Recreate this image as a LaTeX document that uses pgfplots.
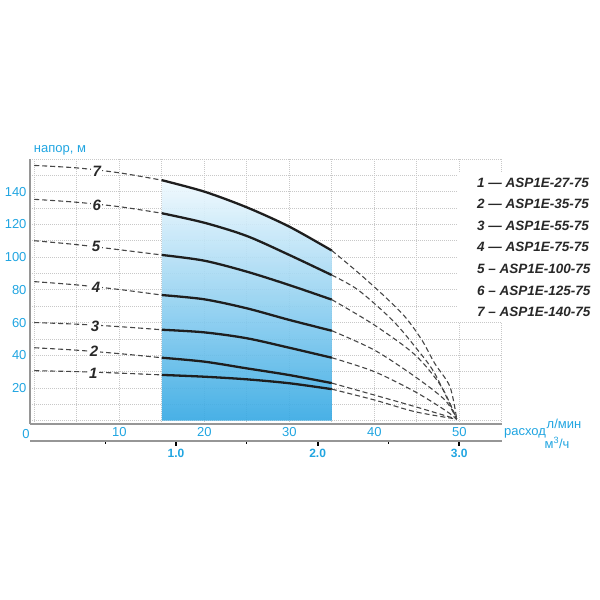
\documentclass[border=0pt]{standalone}
\usepackage{pgfplots}
\pgfplotsset{compat=1.18}
\usepackage{fontspec}
\setmainfont{Liberation Sans}
\definecolor{cy}{RGB}{32,165,225}
\definecolor{gridc}{RGB}{200,200,200}
\definecolor{axc}{RGB}{150,150,150}
\definecolor{dashc}{RGB}{70,70,70}
\definecolor{solidc}{RGB}{30,30,30}
\definecolor{shtop}{RGB}{240,249,254}
\definecolor{shbot}{RGB}{52,168,227}
\definecolor{legc}{RGB}{40,40,40}
\tikzset{lab/.style={fill=white, inner sep=1.5pt, text=legc, font=\fontsize{15}{17}\selectfont\bfseries\itshape}}
\begin{document}
\begin{tikzpicture}[x=1pt,y=1pt]
\begin{axis}[
 at={(30pt,176pt)}, anchor=south west, scale only axis,
 width=471.8pt, height=265.1pt,
 xmin=-0.5, xmax=55, ymin=-2, ymax=160,
 set layers,
 axis x line*=bottom, axis y line*=left,
 axis line style={axc, line width=1.8pt},
 xtick={10,20,30,40,50}, minor xtick={0,5,15,25,35,45,55},
 ytick={20,40,...,140}, minor ytick={0,10,30,50,70,90,110,130,150,160},
 grid=both,
 major grid style={gridc, line width=0.7pt, dash pattern=on 0.7pt off 1.3pt},
 minor grid style={gridc, line width=0.7pt, dash pattern=on 0.7pt off 1.3pt},
 major tick length=0pt, minor tick length=0pt,
 tick label style={font=\fontsize{13}{15}\selectfont, text=cy},
 /pgf/number format/assume math mode=true,
 dsh/.style={dashc, line width=1.1pt, dash pattern=on 5pt off 3pt, smooth},
 sld/.style={solidc, line width=2.3pt, smooth},
]
\addplot[draw=none, top color=shtop, bottom color=shbot, fill opacity=0.9, smooth] coordinates {(15,147)(20,140)(25,130.4)(30,118.6)(35,104)} \closedcycle;
% curve 7
\addplot[dsh] coordinates {(0,156)(5,154.5)(10,151.5)(15,147)};
\addplot[sld] coordinates {(15,147)(20,140)(25,130.4)(30,118.6)(35,104)};
\addplot[dsh] coordinates {(35,104)(38,91)(41,77)(43.6,63.6)(45.6,49.3)(47.1,35.1)(48.9,20.8)(49.7,1)};
% curve 6
\addplot[dsh] coordinates {(0,135.3)(5,133.5)(10,130.8)(15,126.8)};
\addplot[sld] coordinates {(15,126.8)(20,121)(25,112.9)(30,101.3)(35,89)};
\addplot[dsh] coordinates {(35,89)(38.1,79.9)(42.1,61.6)(44.8,45.2)(47.1,29)(49.7,1)};
% curve 5
\addplot[dsh] coordinates {(0,110)(5,107.6)(10,104.5)(15,101.3)};
\addplot[sld] coordinates {(15,101.3)(20,97.8)(25,91.1)(30,82.9)(35,74)};
\addplot[dsh] coordinates {(35,74)(40,58.5)(44.8,40.2)(47.9,20.8)(49.7,1)};
% curve 4
\addplot[dsh] coordinates {(0,85)(5,83)(10,80.2)(15,76.8)};
\addplot[sld] coordinates {(15,76.8)(20,74.2)(25,68.7)(30,61.6)(35,55)};
\addplot[dsh] coordinates {(35,55)(40,43.2)(44.8,26.9)(48.3,12.7)(49.7,1)};
% curve 3
\addplot[dsh] coordinates {(0,60)(5,59)(10,57.5)(15,55.6)};
\addplot[sld] coordinates {(15,55.6)(20,54)(25,50.4)(30,44.6)(35,38.5)};
\addplot[dsh] coordinates {(35,38.5)(40,30)(44.8,17.7)(48.3,6.5)(49.7,1)};
% curve 2
\addplot[dsh] coordinates {(0,44.6)(5,43.1)(10,41)(15,38.5)};
\addplot[sld] coordinates {(15,38.5)(20,36.1)(25,32)(30,27.9)(35,23)};
\addplot[dsh] coordinates {(35,23)(40,15.7)(44.8,8.6)(49.7,1)};
% curve 1
\addplot[dsh] coordinates {(0,30.6)(5,30)(10,29.1)(15,28)};
\addplot[sld] coordinates {(15,28)(20,26.9)(25,25.3)(30,22.9)(35,19.3)};
\addplot[dsh] coordinates {(35,19.3)(40,12.7)(44.8,5.5)(49.7,1)};
\node[lab] at (axis cs:7.35,152.2) {7};
\node[lab] at (axis cs:7.35,131.8) {6};
\node[lab] at (axis cs:7.26,106.4) {5};
\node[lab] at (axis cs:7.26,81.3) {4};
\node[lab] at (axis cs:7.15,57.5) {3};
\node[lab] at (axis cs:7.03,42.2) {2};
\node[lab] at (axis cs:6.95,29.0) {1};
\end{axis}
\begin{axis}[
 at={(30pt,159.3pt)}, anchor=south west, scale only axis,
 width=471.8pt, height=10pt,
 xmin=-0.03, xmax=3.3, ymin=0, ymax=1,
 axis x line*=bottom, axis y line=none,
 axis line style={axc, line width=1.8pt},
 xtick={1,2,3}, xticklabels={1.0,2.0,3.0},
 minor xtick={0.5,1.5,2.5},
 tick align=outside,
 major tick length=5pt, minor tick length=3pt,
 every tick/.style={black, line width=2pt},
 every minor tick/.style={black, line width=1pt},
 tick label style={font=\fontsize{12}{14}\selectfont\bfseries, text=cy},
]
\end{axis}
\node[text=cy, font=\fontsize{13}{15}\selectfont] at (60,450) {напор, м};
\node[text=cy, font=\fontsize{13}{15}\selectfont] at (26,166) {0};
\node[text=cy, font=\fontsize{13}{15}\selectfont] at (525,167) {расход};
\node[text=cy, font=\fontsize{13}{15}\selectfont] at (564,176) {л/мин};
\node[text=cy, font=\fontsize{13}{15}\selectfont] at (557,157) {м\textsuperscript{3}/ч};
\fill[white] (457.5,278) rectangle (600,428.3);
\begin{scope}[every node/.style={anchor=west, inner sep=0pt, text=legc, font=\fontsize{13.5}{16}\selectfont\bfseries\itshape}]
\node at (477,416.7) {1 --- ASP1E-27-75};
\node at (477,396) {2 --- ASP1E-35-75};
\node at (477,374) {3 --- ASP1E-55-75};
\node at (477,352.7) {4 --- ASP1E-75-75};
\node at (477,331) {5 -- ASP1E-100-75};
\node at (477,309.3) {6 -- ASP1E-125-75};
\node at (477,288.3) {7 -- ASP1E-140-75};
\end{scope}
\pgfresetboundingbox
\useasboundingbox (0,0) rectangle (600,600);
\end{tikzpicture}
\end{document}
